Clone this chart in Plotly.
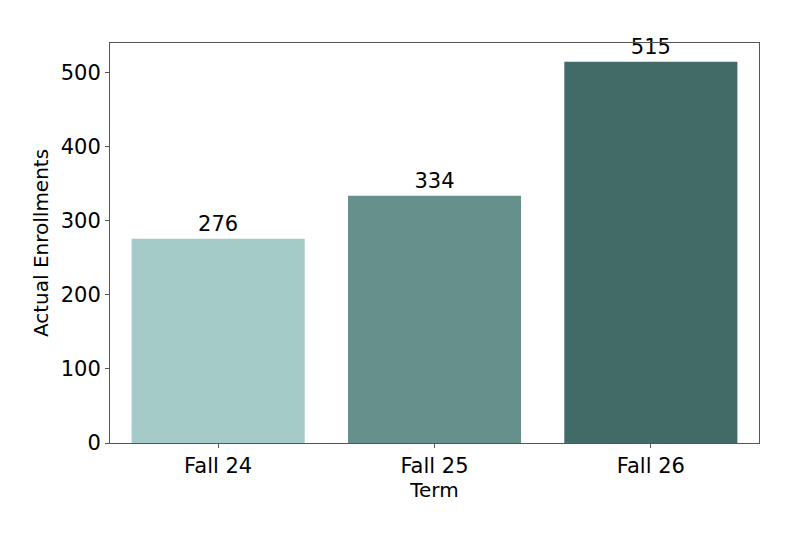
import plotly.graph_objects as go

terms = ["Fall 24", "Fall 25", "Fall 26"]
enrollments = [276, 334, 515]
colors = ["#A5CBC8", "#66908C", "#426B67"]

fig = go.Figure(go.Bar(
    x=terms, y=enrollments, marker_color=colors, marker_line_width=0,
    text=[str(v) for v in enrollments], textposition="outside",
    textfont=dict(size=21, color="black"), cliponaxis=False, width=0.8,
))
fig.update_layout(
    width=800, height=533, margin=dict(l=102, r=49, t=35, b=98),
    plot_bgcolor="white", paper_bgcolor="white",
    font=dict(family="DejaVu Sans", size=20, color="black"),
    showlegend=False,
)
fig.update_traces(textangle=0)
fig.update_xaxes(title=dict(text="Term", standoff=0, font=dict(size=20)), tickfont=dict(size=21),
                 range=[-0.5, 2.5], showline=True, linecolor="#555",
                 mirror=True, ticks="outside", ticklen=4, tickcolor="#555", showgrid=False)
fig.update_yaxes(title=dict(text="Actual Enrollments", standoff=6, font=dict(size=20)), tickfont=dict(size=21),
                 range=[0, 540.5], showline=True,
                 linecolor="#555", mirror=True, ticks="outside", ticklen=4, tickcolor="#555",
                 showgrid=False, zeroline=False, tickvals=[0, 100, 200, 300, 400, 500])
fig.write_html("out.html")
